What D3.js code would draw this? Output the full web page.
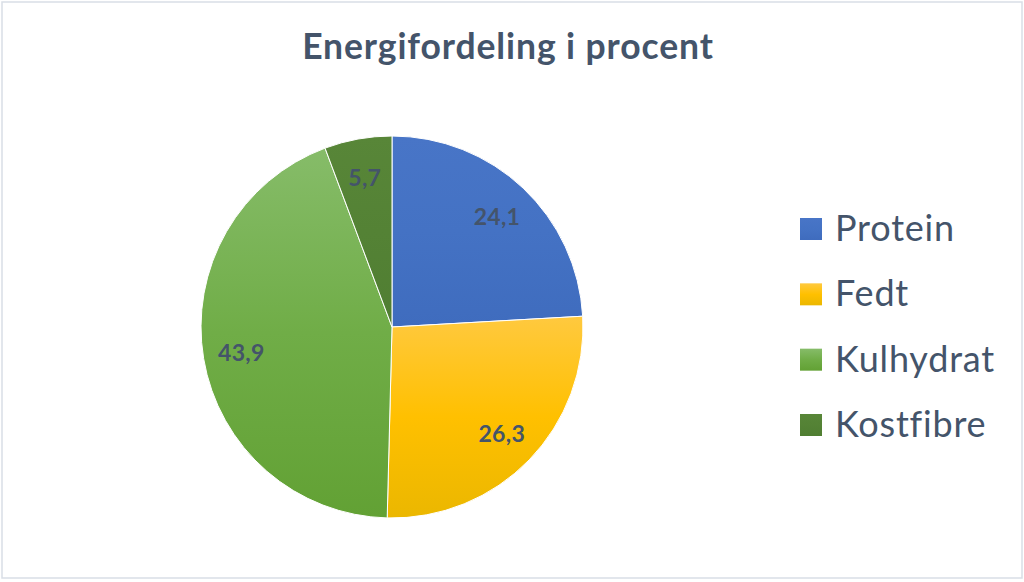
<!DOCTYPE html>
<html>
<head>
<meta charset="utf-8">
<script src="https://cdn.jsdelivr.net/npm/d3@7"></script>
<style>
  html, body { margin: 0; padding: 0; background: #fff; }
  svg { display: block; }
</style>
</head>
<body>
<svg id="chart" width="1024" height="582"></svg>
<script>
const categories = ["Protein", "Fedt", "Kulhydrat", "Kostfibre"];
const values = [24.1, 26.3, 43.9, 5.7];
const labels = ["24,1", "26,3", "43,9", "5,7"];
const title = "Energifordeling i procent";

const colors = {
  Protein:   ["#4875C7", "#4472C4", "#3F6CBE"],
  Fedt:      ["#FFC93F", "#FFC000", "#EBB700"],
  Kulhydrat: ["#86BC69", "#70AD47", "#62A134"],
  Kostfibre: ["#588638", "#548235", "#507E32"]
};

const W = 1024, H = 582;
const svg = d3.select("#chart");
const defs = svg.append("defs");

categories.forEach((c, i) => {
  const g = defs.append("linearGradient")
    .attr("id", "grad" + i)
    .attr("x1", 0).attr("y1", 0).attr("x2", 0).attr("y2", 1);
  g.append("stop").attr("offset", "0%").attr("stop-color", colors[c][0]);
  g.append("stop").attr("offset", "50%").attr("stop-color", colors[c][1]);
  g.append("stop").attr("offset", "100%").attr("stop-color", colors[c][2]);
});

// chart border
svg.append("rect")
  .attr("x", 2).attr("y", 2).attr("width", 1020).attr("height", 576)
  .attr("fill", "#fff").attr("stroke", "#D9DEE6").attr("stroke-width", 1.5);

// title
svg.append("text")
  .attr("x", 508).attr("y", 59)
  .attr("text-anchor", "middle")
  .attr("font-family", "Lato, 'Open Sans', sans-serif")
  .attr("font-weight", "bold")
  .attr("font-size", 35.5)
  .attr("letter-spacing", 0.9)
  .attr("fill", "#44546A")
  .text(title);

// pie
const cx = 392, cy = 327, r = 191;
const data = categories.map((c, i) => ({ name: c, value: values[i], label: labels[i], idx: i }));
const pie = d3.pie().value(d => d.value).sort(null);
const arcs = pie(data);
const arc = d3.arc().innerRadius(0).outerRadius(r);
const labelArc = d3.arc().innerRadius(r * 0.80).outerRadius(r * 0.80);

const gPie = svg.append("g").attr("transform", `translate(${cx},${cy})`);
gPie.selectAll("path.slice")
  .data(arcs)
  .join("path")
  .attr("class", "slice")
  .attr("d", arc)
  .attr("fill", d => `url(#grad${d.data.idx})`)
  .attr("stroke", "#fff")
  .attr("stroke-width", 1);

gPie.selectAll("text.lbl")
  .data(arcs)
  .join("text")
  .attr("class", "lbl")
  .attr("transform", d => {
    const [x, y] = labelArc.centroid(d);
    return `translate(${x},${y})`;
  })
  .attr("text-anchor", "middle")
  .attr("dominant-baseline", "central")
  .attr("font-family", "Lato, 'Open Sans', sans-serif")
  .attr("font-weight", "bold")
  .attr("font-size", 23)
  .attr("letter-spacing", 0.3)
  .attr("fill", "#44546A")
  .text(d => d.data.label);

// legend
const legendY = d3.scalePoint().domain(categories).range([229, 425]);
const gLeg = svg.append("g");
const items = gLeg.selectAll("g.item").data(data).join("g")
  .attr("class", "item")
  .attr("transform", d => `translate(800,${legendY(d.name)})`);
items.append("rect")
  .attr("x", 0).attr("y", -11).attr("width", 22).attr("height", 22)
  .attr("fill", d => `url(#grad${d.idx})`);
items.append("text")
  .attr("x", 35).attr("y", 12)
  .attr("font-family", "Lato, 'Open Sans', sans-serif")
  .attr("font-size", 36)
  .attr("letter-spacing", 0.8)
  .attr("fill", "#44546A")
  .text(d => d.name);
</script>
</body>
</html>
